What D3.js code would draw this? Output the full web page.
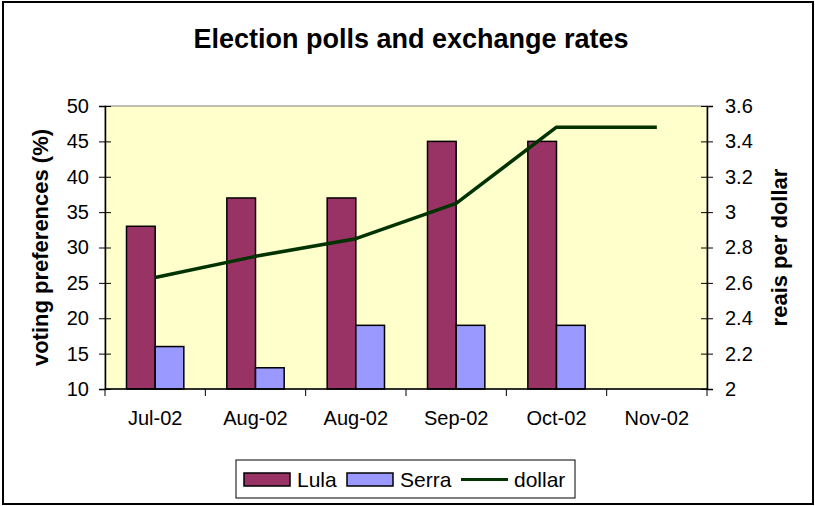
<!DOCTYPE html>
<html>
<head>
<meta charset="utf-8">
<script src="https://cdn.jsdelivr.net/npm/d3@7"></script>
<style>
  body { margin: 0; background: #fff; }
  text { font-family: "Liberation Sans", Arial, sans-serif; fill: #000; }
</style>
</head>
<body>
<div id="chart"></div>
<script>
// --- data ---
const months = ["Jul-02", "Aug-02", "Aug-02", "Sep-02", "Oct-02", "Nov-02"];
const lula = [33, 37, 37, 45, 45, null];
const serra = [16, 13, 19, 19, 19, null];
const dollar = [2.63, 2.75, 2.85, 3.05, 3.48, 3.48];
const leftTicks = [10, 15, 20, 25, 30, 35, 40, 45, 50];
const rightTicks = [2, 2.2, 2.4, 2.6, 2.8, 3, 3.2, 3.4, 3.6];

// --- setup ---
const width = 815, height = 506;
const plot = { left: 105, right: 707, top: 106, bottom: 389 };

const svg = d3.select("#chart").append("svg")
  .attr("width", width)
  .attr("height", height);

svg.append("rect")
  .attr("x", 3).attr("y", 2)
  .attr("width", 810).attr("height", 502)
  .attr("fill", "#fff")
  .attr("stroke", "#000")
  .attr("stroke-width", 2);

svg.append("text")
  .attr("x", 411).attr("y", 48)
  .attr("text-anchor", "middle")
  .style("font-size", "27px")
  .style("font-weight", "bold")
  .text("Election polls and exchange rates");

// plot background
svg.append("rect")
  .attr("x", plot.left).attr("y", plot.top)
  .attr("width", plot.right - plot.left)
  .attr("height", plot.bottom - plot.top)
  .attr("fill", "#FFFFCC")
  .attr("stroke", "#808080")
  .attr("stroke-width", 1);

// --- scales ---
const x = d3.scaleBand()
  .domain(d3.range(months.length))
  .range([plot.left, plot.right])
  .padding(0);

const yLeft = d3.scaleLinear().domain([10, 50]).range([plot.bottom, plot.top]);
const yRight = d3.scaleLinear().domain([2, 3.6]).range([plot.bottom, plot.top]);

const barW = x.bandwidth() / 3.5;
const mid = (i) => x(i) + x.bandwidth() / 2;

// --- bars ---
svg.append("g").selectAll("rect")
  .data(lula.map((v, i) => ({ v, i })).filter((d) => d.v !== null))
  .enter().append("rect")
  .attr("x", (d) => mid(d.i) - barW)
  .attr("y", (d) => yLeft(d.v))
  .attr("width", barW)
  .attr("height", (d) => yLeft(10) - yLeft(d.v))
  .attr("fill", "#993366")
  .attr("stroke", "#000")
  .attr("stroke-width", 1.5);

svg.append("g").selectAll("rect")
  .data(serra.map((v, i) => ({ v, i })).filter((d) => d.v !== null))
  .enter().append("rect")
  .attr("x", (d) => mid(d.i))
  .attr("y", (d) => yLeft(d.v))
  .attr("width", barW)
  .attr("height", (d) => yLeft(10) - yLeft(d.v))
  .attr("fill", "#9999FF")
  .attr("stroke", "#000")
  .attr("stroke-width", 1.5);

// --- dollar line ---
const line = d3.line()
  .x((d, i) => mid(i))
  .y((d) => yRight(d));

svg.append("path")
  .datum(dollar)
  .attr("d", line)
  .attr("fill", "none")
  .attr("stroke", "#003300")
  .attr("stroke-width", 3.5)
  .attr("stroke-linejoin", "round");

// --- axes ---
const leftAxis = svg.append("g")
  .attr("transform", `translate(${plot.left},0)`)
  .call(d3.axisLeft(yLeft).tickValues(leftTicks).tickSize(6).tickPadding(10));

const rightAxis = svg.append("g")
  .attr("transform", `translate(${plot.right},0)`)
  .call(d3.axisRight(yRight).tickValues(rightTicks).tickFormat(d3.format("~g"))
    .tickSize(6).tickPadding(12));

const bottomAxis = svg.append("g")
  .attr("transform", `translate(0,${plot.bottom})`)
  .call(d3.axisBottom(x).tickFormat((i) => months[i]).tickSize(0).tickPadding(22));

// category boundary ticks
svg.append("g").selectAll("line")
  .data(d3.range(months.length + 1))
  .enter().append("line")
  .attr("x1", (i) => plot.left + i * x.step())
  .attr("x2", (i) => plot.left + i * x.step())
  .attr("y1", plot.bottom)
  .attr("y2", plot.bottom + 7)
  .attr("stroke", "#000");

// cross ticks on value axes
leftAxis.selectAll(".tick line").attr("x2", -6).attr("x1", 6);
rightAxis.selectAll(".tick line").attr("x1", -6).attr("x2", 6);

[leftAxis, rightAxis, bottomAxis].forEach((g) => {
  g.select(".domain").attr("stroke", "#000").attr("stroke-width", 1.5);
  g.selectAll(".tick line").attr("stroke", "#000");
  g.selectAll("text")
    .style("font-size", "20px")
    .style("font-family", "'Liberation Sans', Arial, sans-serif");
});
bottomAxis.select(".domain").attr("d", `M${plot.left},0H${plot.right}`);

// axis titles
svg.append("text")
  .attr("transform", `translate(48,${(plot.top + plot.bottom) / 2}) rotate(-90)`)
  .attr("text-anchor", "middle")
  .style("font-size", "22px")
  .style("font-weight", "bold")
  .text("voting preferences (%)");

svg.append("text")
  .attr("transform", `translate(787,${(plot.top + plot.bottom) / 2}) rotate(-90)`)
  .attr("text-anchor", "middle")
  .style("font-size", "22px")
  .style("font-weight", "bold")
  .text("reais per dollar");

// --- legend ---
const legend = svg.append("g");
legend.append("rect")
  .attr("x", 236).attr("y", 460)
  .attr("width", 339).attr("height", 38)
  .attr("fill", "#fff")
  .attr("stroke", "#000")
  .attr("stroke-width", 1);

const legendItems = [
  { name: "Lula", color: "#993366", type: "bar", x: 244 },
  { name: "Serra", color: "#9999FF", type: "bar", x: 347 },
  { name: "dollar", color: "#003300", type: "line", x: 461 }
];

legendItems.forEach((d) => {
  if (d.type === "bar") {
    legend.append("rect")
      .attr("x", d.x).attr("y", 473)
      .attr("width", 46).attr("height", 13)
      .attr("fill", d.color)
      .attr("stroke", "#000")
      .attr("stroke-width", 1.5);
  } else {
    legend.append("line")
      .attr("x1", d.x).attr("x2", d.x + 47)
      .attr("y1", 479.5).attr("y2", 479.5)
      .attr("stroke", d.color)
      .attr("stroke-width", 3);
  }
  legend.append("text")
    .attr("x", d.x + 53).attr("y", 487)
    .style("font-size", "21px")
    .text(d.name);
});
</script>
</body>
</html>
